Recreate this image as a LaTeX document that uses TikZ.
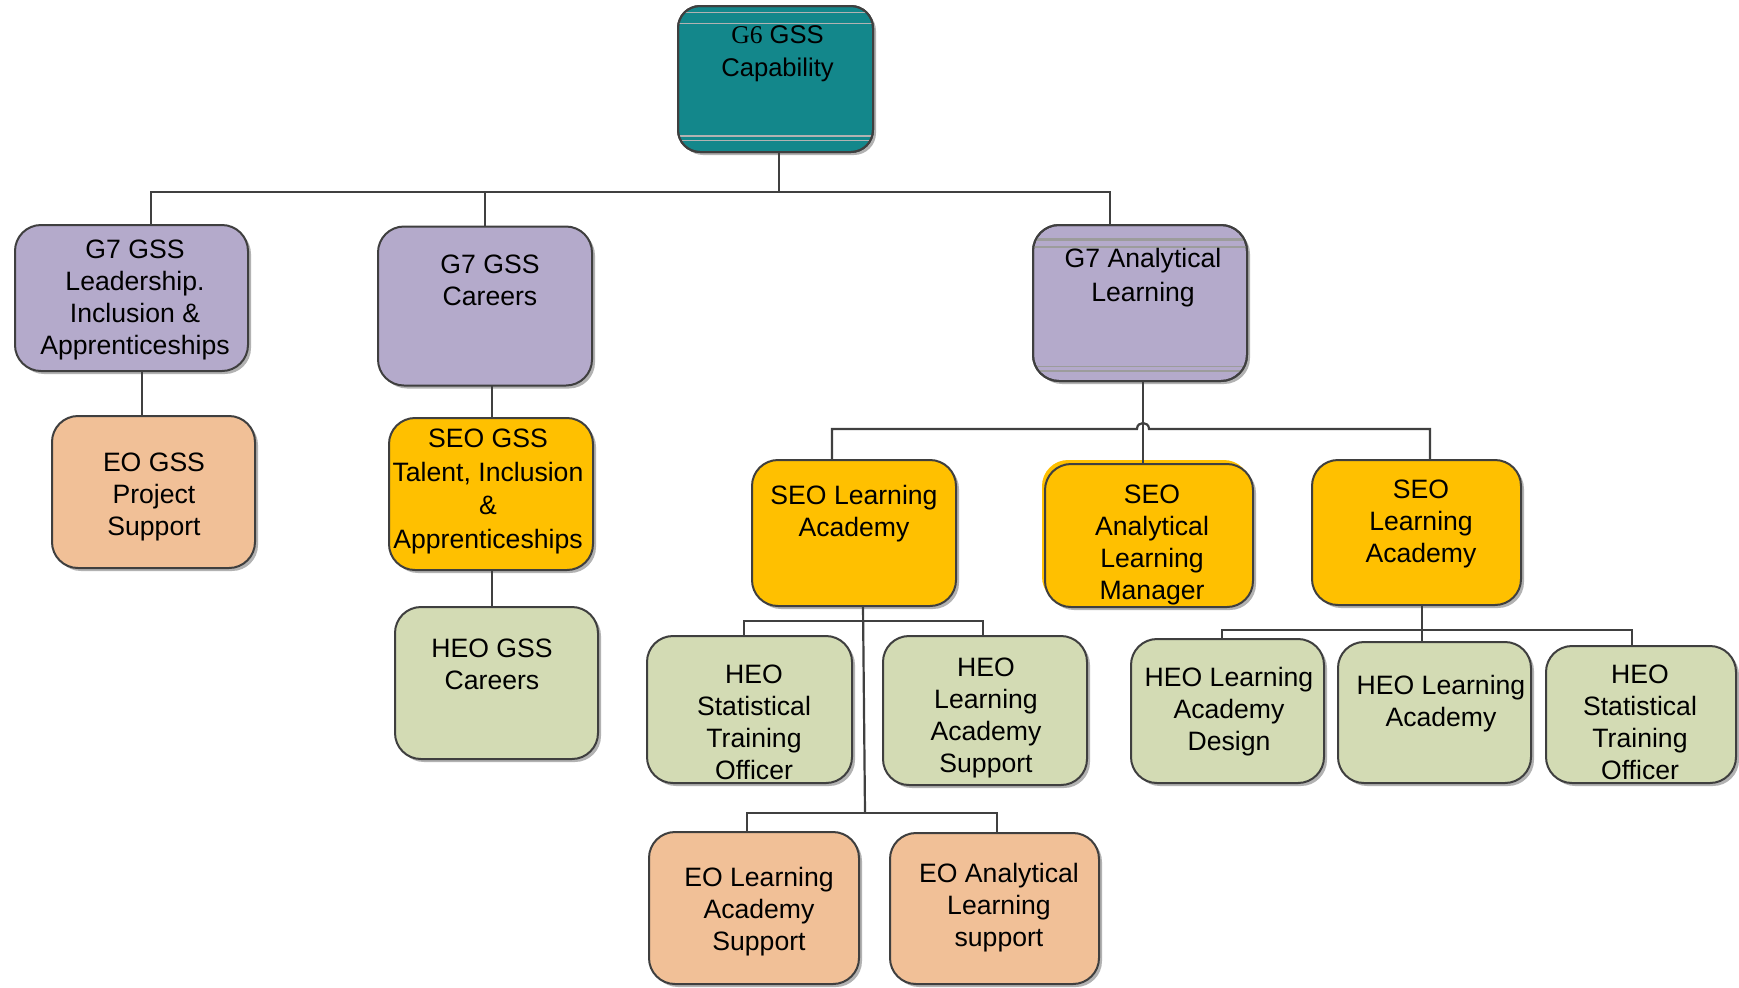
\documentclass[tikz,border=0pt]{standalone}
\usepackage{fontspec}
\setmainfont{Liberation Sans}
\newfontfamily\serifG{Liberation Serif}
\usetikzlibrary{shadows}
\definecolor{tealc}{HTML}{13878B}
\definecolor{lavc}{HTML}{B4AACB}
\definecolor{seoc}{HTML}{FFC000}
\definecolor{peachc}{HTML}{F1C097}
\definecolor{greenc}{HTML}{D3DBB4}
\definecolor{bordc}{HTML}{3F3F3F}
\definecolor{linec}{HTML}{404040}
\definecolor{stripec}{HTML}{9C9C9C}
\begin{document}
\begin{tikzpicture}[x=0.5pt,y=-0.5pt,
  box/.style={rectangle, rounded corners=13pt, draw=bordc, line width=1pt,
    inner sep=0pt, outer sep=0pt,
    drop shadow={shadow xshift=1.5pt, shadow yshift=-1.5pt, fill=black, opacity=0.3}},
  txt/.style={inner sep=0pt, align=center, anchor=north, text=black,
    font=\fontsize{13.3}{16}\selectfont},
  conn/.style={draw=linec, line width=1.1pt},
  stripe/.style={draw=stripec, line width=0.6pt}]
\useasboundingbox (0,0) rectangle (1739,987);
\fill[white] (0,0) rectangle (1739,987);

% ---------- boxes ----------
\node[box, rounded corners=11pt, fill=tealc, minimum width=97.5pt, minimum height=73pt] (g6) at (775.5,79) {};
\node[box, fill=lavc, minimum width=116.5pt, minimum height=73pt] (g7l) at (131.5,298) {};
\node[box, fill=peachc, minimum width=101.5pt, minimum height=76pt] (eo1) at (153.5,492) {};
\node[box, fill=lavc, minimum width=107pt, minimum height=79.5pt] (g7c) at (485,306) {};
\node[box, fill=seoc, minimum width=102pt, minimum height=76pt] (seo1) at (491,494) {};
\node[box, fill=greenc, minimum width=101.5pt, minimum height=76pt] (heo1) at (496.5,683) {};
\node[box, fill=lavc, minimum width=107pt, minimum height=78pt] (g7a) at (1140,303) {};
\node[box, fill=seoc, minimum width=102pt, minimum height=73pt] (seoL) at (854,533) {};
\fill[seoc, rounded corners=13pt] (1042,460) rectangle (1250,603);
\node[box, fill=seoc, minimum width=104pt, minimum height=71.5pt] (seoM) at (1149,535.5) {};
\node[box, fill=seoc, minimum width=104.5pt, minimum height=72.5pt] (seoR) at (1416.5,532.5) {};
\node[box, fill=greenc, minimum width=102.5pt, minimum height=73.5pt] (heoA) at (749.5,709.5) {};
\node[box, fill=greenc, minimum width=102pt, minimum height=74.5pt] (heoB) at (985,710.5) {};
\node[box, fill=peachc, minimum width=105pt, minimum height=76pt] (eoA) at (754,908) {};
\node[box, fill=peachc, minimum width=104.5pt, minimum height=75.5pt] (eoB) at (994.5,908.5) {};
\node[box, fill=greenc, minimum width=96.5pt, minimum height=72pt] (heoC) at (1227.5,711) {};
\node[box, fill=greenc, minimum width=96.5pt, minimum height=70.5pt] (heoD) at (1434.5,712.5) {};
\node[box, fill=greenc, minimum width=95pt, minimum height=68.5pt] (heoE) at (1641,714.5) {};

% ---------- stripes ----------
\begin{scope}
\clip[rounded corners=11pt] (g6.north west) rectangle (g6.south east);
\draw[stripe, draw=gray!60] (g6.west |- 0,12.5) -- (g6.east |- 0,12.5);
\draw[stripe, draw=gray!60] (g6.west |- 0,23.5) -- (g6.east |- 0,23.5);
\draw[stripe, draw=gray!60] (g6.west |- 0,136) -- (g6.east |- 0,136);
\draw[stripe, draw=gray!60] (g6.west |- 0,140.5) -- (g6.east |- 0,140.5);
\end{scope}
\draw[bordc, line width=1pt, rounded corners=11pt] (g6.north west) rectangle (g6.south east);
\begin{scope}
\clip[rounded corners=13pt] (g7a.north west) rectangle (g7a.south east);
\draw[stripe, line width=1.4pt] (g7a.west |- 0,239.5) -- (g7a.east |- 0,239.5);
\draw[stripe, line width=1.2pt] (g7a.west |- 0,247) -- (g7a.east |- 0,247);
\draw[stripe, line width=0.9pt] (g7a.west |- 0,366.5) -- (g7a.east |- 0,366.5);
\draw[stripe, line width=0.9pt] (g7a.west |- 0,371) -- (g7a.east |- 0,371);
\end{scope}
\draw[bordc, line width=1pt, rounded corners=13pt] (g7a.north west) rectangle (g7a.south east);

% ---------- texts ----------
\node[txt, font=\fontsize{12.8}{16.5}\selectfont] (g6t) at (777.5,25) {{\serifG G6} GSS\\Capability};
\node[txt] (g7lt) at (135,240) {G7 GSS\\Leadership.\\Inclusion \&\\Apprenticeships};
\node[txt] (eo1t) at (154,453) {EO GSS\\Project\\Support};
\node[txt] (g7ct) at (490,255) {G7 GSS\\Careers};
\node[txt, font=\fontsize{13.3}{16.8}\selectfont] (seo1t) at (488,428.5) {SEO GSS\\Talent, Inclusion\\\&\\Apprenticeships};
\node[txt] (heo1t) at (492,638.5) {HEO GSS\\Careers};
\node[txt, font=\fontsize{13.3}{17}\selectfont] (g7at) at (1143,248) {G7 Analytical\\Learning};
\node[txt] (seoLt) at (854,485) {SEO Learning\\Academy};
\node[txt] (seoMt) at (1152,485) {SEO\\Analytical\\Learning\\Manager};
\node[txt] (seoRt) at (1421,480) {SEO\\Learning\\Academy};
\node[txt] (heoAt) at (754,665) {HEO\\Statistical\\Training\\Officer};
\node[txt] (heoBt) at (986,658) {HEO\\Learning\\Academy\\Support};
\node[txt] (eoAt) at (759,867) {EO Learning\\Academy\\Support};
\node[txt] (eoBt) at (999,863) {EO Analytical\\Learning\\support};
\node[txt] (heoCt) at (1229,667) {HEO Learning\\Academy\\Design};
\node[txt] (heoDt) at (1441,675) {HEO Learning\\Academy};
\node[txt] (heoEt) at (1640,665) {HEO\\Statistical\\Training\\Officer};

% ---------- connectors ----------
\coordinate (d1) at (151,192);
\coordinate (d3) at (1110,192);
\draw[conn] (g6.south -| 779,0) -- (779,192);
\draw[conn] (g7l.north -| d1) -- (d1) -- (d3) -- (g7a.north -| d3);
\draw[conn] (g7c.north) -- (g7c.north |- d1);
\draw[conn] (g7l.south -| 142,0) -- (eo1.north -| 142,0);
\draw[conn] (seo1.north -| 492,0) -- (g7c.south -| 492,0);
\draw[conn] (seo1.south -| 492,0) -- (heo1.north -| 492,0);

\draw[conn] (g7a.south -| 1143,0) -- (seoM.north -| 1143,0);
\draw[conn] (seoL.north -| 832,0) -- (832,429) -- (1137,429)
  .. controls (1137,421) and (1149,421) .. (1149,429) -- (1430,429) -- (seoR.north -| 1430,0);

\draw[conn] (seoL.south -| 863,0) -- (865,813);
\draw[conn] (heoA.north -| 744,0) -- (744,621) -- (983,621) -- (heoB.north -| 983,0);
\draw[conn] (eoA.north -| 747,0) -- (747,813) -- (997,813) -- (eoB.north -| 997,0);

\draw[conn] (seoR.south -| 1422,0) -- (1422,630);
\draw[conn] (heoC.north -| 1222,0) -- (1222,630) -- (1632,630) -- (heoE.north -| 1632,0);
\draw[conn] (1422,630) -- (heoD.north -| 1422,0);
\end{tikzpicture}
\end{document}
